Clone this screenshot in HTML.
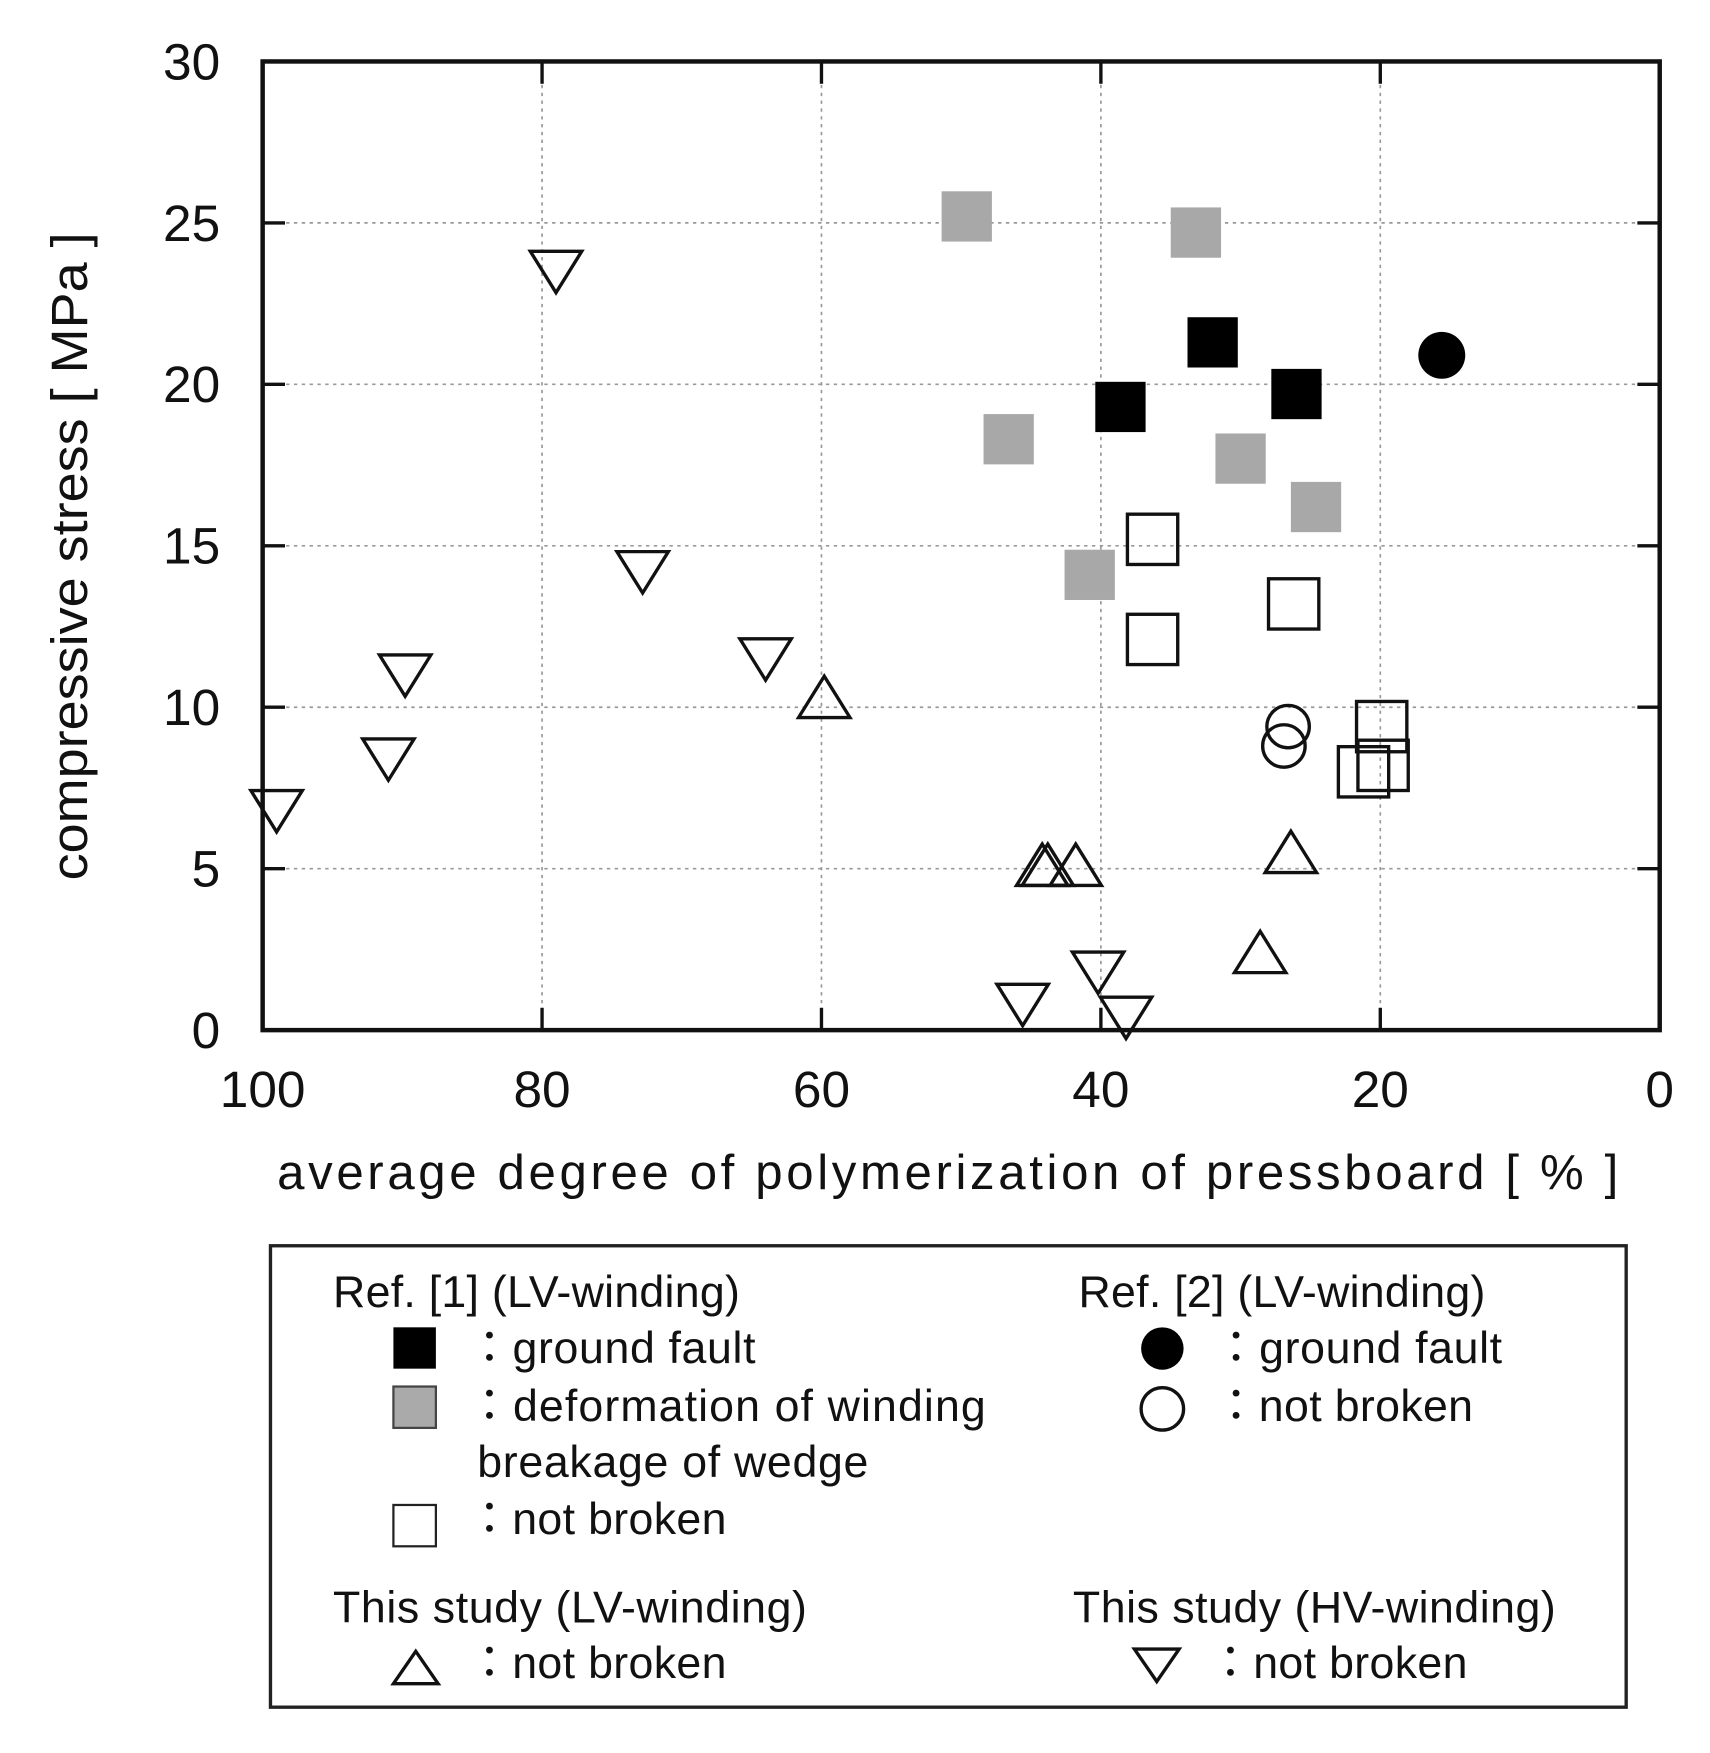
<!DOCTYPE html>
<html><head><meta charset="utf-8"><style>html,body{margin:0;padding:0;background:#fff}svg{display:block}text{font-family:"Liberation Sans","Noto Sans CJK JP",sans-serif;fill:#111}</style></head>
<body>
<svg id="chart" width="1710" height="1753" viewBox="0 0 1530 1569" preserveAspectRatio="none" xmlns="http://www.w3.org/2000/svg">
<g id="grid"></g>
<g id="axes"></g>
<g id="marks"></g>
<text transform="translate(78,498) rotate(-90)" text-anchor="middle" font-size="46" textLength="580" lengthAdjust="spacingAndGlyphs">compressive stress [ MPa ]</text>
<text x="248" y="1064" font-size="44" textLength="1200">average degree of polymerization of pressboard  [ % ]</text>
<g>
<rect x="242" y="1115" width="1213" height="413" fill="#fff" stroke="#222" stroke-width="3"/>
<text x="298" y="1170" font-size="40" textLength="364">Ref. [1] (LV-winding)</text>
<rect x="352" y="1188" width="38" height="37" fill="#000"/>
<text x="418" y="1220" font-size="40" textLength="258">：ground fault</text>
<rect x="352" y="1241" width="38" height="37" fill="#aaa" stroke="#444" stroke-width="2"/>
<text x="418" y="1272" font-size="40" textLength="464">：deformation of winding</text>
<text x="427" y="1322" font-size="40" textLength="350">breakage of wedge</text>
<rect x="352" y="1347" width="38" height="37" fill="#fff" stroke="#222" stroke-width="2"/>
<text x="418" y="1373" font-size="40" textLength="232">：not broken</text>
<text x="298" y="1452" font-size="40" textLength="424">This study (LV-winding)</text>
<polygon points="352,1507 392,1507 372,1478" fill="none" stroke="#111" stroke-width="3"/>
<text x="418" y="1502" font-size="40" textLength="232">：not broken</text>
<text x="965" y="1170" font-size="40" textLength="364">Ref. [2] (LV-winding)</text>
<circle cx="1040" cy="1207" r="19" fill="#000"/>
<text x="1086" y="1220" font-size="40" textLength="258">：ground fault</text>
<circle cx="1040" cy="1261" r="19" fill="none" stroke="#111" stroke-width="3"/>
<text x="1086" y="1272" font-size="40" textLength="232">：not broken</text>
<text x="960" y="1452" font-size="40" textLength="432">This study (HV-winding)</text>
<polygon points="1015,1476 1055,1476 1035,1505" fill="none" stroke="#111" stroke-width="3"/>
<text x="1081" y="1502" font-size="40" textLength="232">：not broken</text>
</g>
</svg>
<script>
const xTicks=[100,80,60,40,20,0];
const yTicks=[0,5,10,15,20,25,30];
const blackSqX=[38.6,32.0,26.0];
const blackSqY=[19.3,21.3,19.7];
const graySqX=[49.6,33.2,46.6,30.0,24.6,40.8];
const graySqY=[25.2,24.7,18.3,17.7,16.2,14.1];
const openSqX=[36.3,26.2,36.3,19.9,19.8,21.2];
const openSqY=[15.2,13.2,12.1,9.4,8.2,8.0];
const blackCircX=[15.6];
const blackCircY=[20.9];
const openCircX=[26.6,26.9];
const openCircY=[9.4,8.8];
const upTriX=[59.8,44.2,43.8,41.8,26.4,28.6];
const upTriY=[10.2,5.0,5.0,5.0,5.4,2.3];
const downTriX=[79,72.8,89.8,64,91,99,45.6,40.2,38.2];
const downTriY=[23.6,14.3,11.1,11.6,8.5,6.9,0.9,1.9,0.5];

const L=235,R=1485,T=55,B=922;
function sx(v){return L+(100-v)/100*(R-L);}
function sy(v){return B-v/30*(B-T);}
const NS='http://www.w3.org/2000/svg';
function mk(tag,attrs,parent){const e=document.createElementNS(NS,tag);for(const k in attrs)e.setAttribute(k,attrs[k]);parent.appendChild(e);return e;}
const grid=document.getElementById('grid'),axes=document.getElementById('axes'),marks=document.getElementById('marks');
xTicks.forEach(v=>{
  const x=sx(v);
  if(v!==100&&v!==0){const g=mk('line',{x1:x,x2:x,y1:T,y2:B,stroke:'#999','stroke-width':1.5,'stroke-dasharray':'3,4'},grid);
  
  
  mk('line',{x1:x,x2:x,y1:B,y2:B-20,stroke:'#111','stroke-width':3},axes);
  mk('line',{x1:x,x2:x,y1:T,y2:T+20,stroke:'#111','stroke-width':3},axes);}
  const t=mk('text',{x:x,y:991,'text-anchor':'middle','font-size':46},axes);t.textContent=v;
  
  
});
yTicks.forEach(v=>{
  const y=sy(v);
  if(v!==0&&v!==30){const g=mk('line',{x1:L,x2:R,y1:y,y2:y,stroke:'#999','stroke-width':1.5,'stroke-dasharray':'3,4'},grid);
  
  
  mk('line',{x1:L,x2:L+20,y1:y,y2:y,stroke:'#111','stroke-width':3},axes);
  mk('line',{x1:R,x2:R-20,y1:y,y2:y,stroke:'#111','stroke-width':3},axes);}
  const t=mk('text',{x:197,y:y+16,'text-anchor':'end','font-size':46},axes);t.textContent=v;
  
  
});
const fr=mk('rect',{x:L,y:T,width:R-L,height:B-T,fill:'none',stroke:'#111','stroke-width':4},axes);


function squares(xs,ys,fill,stroke,name){xs.forEach((v,i)=>{const s=45;const e=mk('rect',{x:sx(v)-s/2,y:sy(ys[i])-s/2,width:s,height:s,fill:fill,stroke:stroke,'stroke-width':3},marks);

});}
squares(graySqX,graySqY,'#a8a8a8','none','gray-square-point');
squares(blackSqX,blackSqY,'#000','none','black-square-point');
squares(openSqX,openSqY,'none','#111','open-square-point');
blackCircX.forEach((v,i)=>{const e=mk('circle',{cx:sx(v),cy:sy(blackCircY[i]),r:21,fill:'#000'},marks);

});
openCircX.forEach((v,i)=>{const e=mk('circle',{cx:sx(v),cy:sy(openCircY[i]),r:19,fill:'none',stroke:'#111','stroke-width':3},marks);

});
upTriX.forEach((v,i)=>{const x=sx(v),y=sy(upTriY[i]);const e=mk('polygon',{points:`${x-23},${y+15} ${x+23},${y+15} ${x},${y-22}`,fill:'none',stroke:'#111','stroke-width':3},marks);

});
downTriX.forEach((v,i)=>{const x=sx(v),y=sy(downTriY[i]);const e=mk('polygon',{points:`${x-23},${y-15} ${x+23},${y-15} ${x},${y+22}`,fill:'none',stroke:'#111','stroke-width':3},marks);

});
</script>
</body></html>
